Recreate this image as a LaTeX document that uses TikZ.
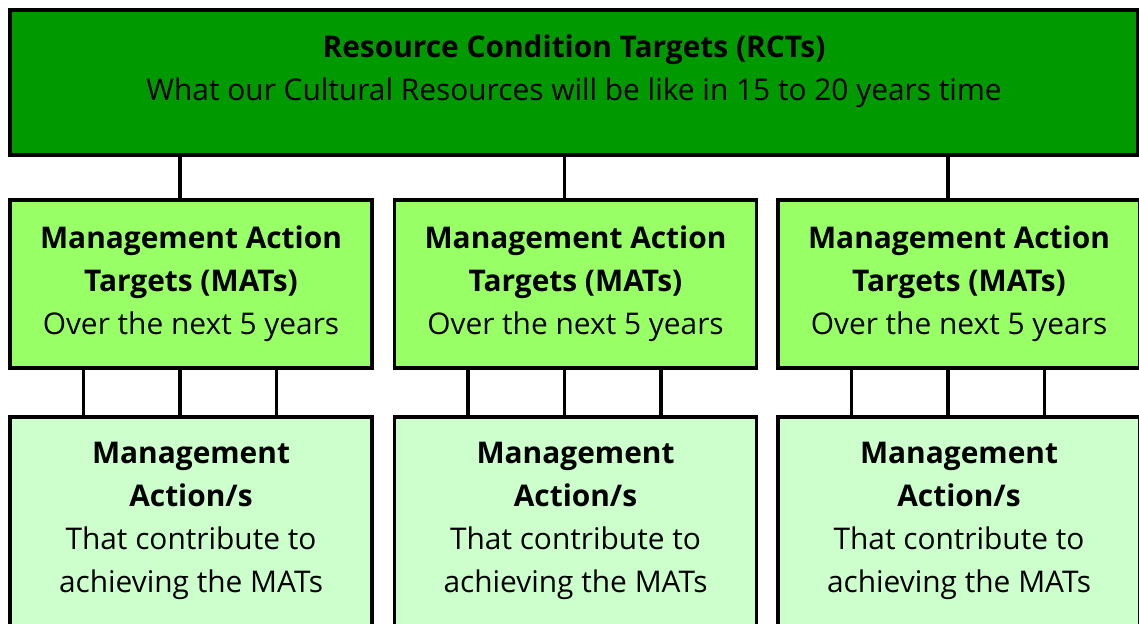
\documentclass[tikz,border=0pt]{standalone}
\usepackage{fontspec}
\setmainfont{Open Sans}
\usepackage{xcolor}
\usetikzlibrary{positioning}
\definecolor{rctgreen}{HTML}{009900}
\definecolor{matgreen}{HTML}{99FF66}
\definecolor{actgreen}{HTML}{CCFFCC}
\tikzset{
  box/.style={draw, line width=2.2pt, minimum width=7.24cm, align=center,
    inner sep=0pt, font=\fontsize{17}{24.5}\selectfont},
  link/.style={line width=2.2pt}
}

\begin{document}
\begin{tikzpicture}[x=0.02cm, y=-0.02cm]
    \useasboundingbox (0,0) rectangle (1139,624);

    % Resource condition targets
    \node[box, fill=rctgreen, minimum width=22.56cm, minimum height=2.9cm, text depth=0.6cm] (rct) at (574,82.5)
        {\textbf{Resource Condition Targets (RCTs)}\\What our Cultural Resources will be like in 15 to 20 years time};

    % Three columns: MATs and their actions
    \foreach \i/\x in {1/191, 2/575.5, 3/959} {
        \node[box, fill=matgreen, minimum height=3.36cm] (mat\i) at (\x,284)
            {\textbf{Management Action}\\\textbf{Targets (MATs)}\\Over the next 5 years};
        \node[box, fill=actgreen, anchor=north, minimum height=5cm, text depth=1cm] (act\i) at (\x,415)
            {\textbf{Management}\\\textbf{Action/s}\\That contribute to\\achieving the MATs};

        % Links
        \draw[link] ([xshift=-0.22cm]mat\i.north) -- ([xshift=-0.22cm]mat\i.north |- rct.south);
        \foreach \dx in {-2.15, -0.22, 1.71}
            \draw[link] ([xshift=\dx cm]act\i.north) -- ([xshift=\dx cm]act\i.north |- mat\i.south);
    }
\end{tikzpicture}
\end{document}
